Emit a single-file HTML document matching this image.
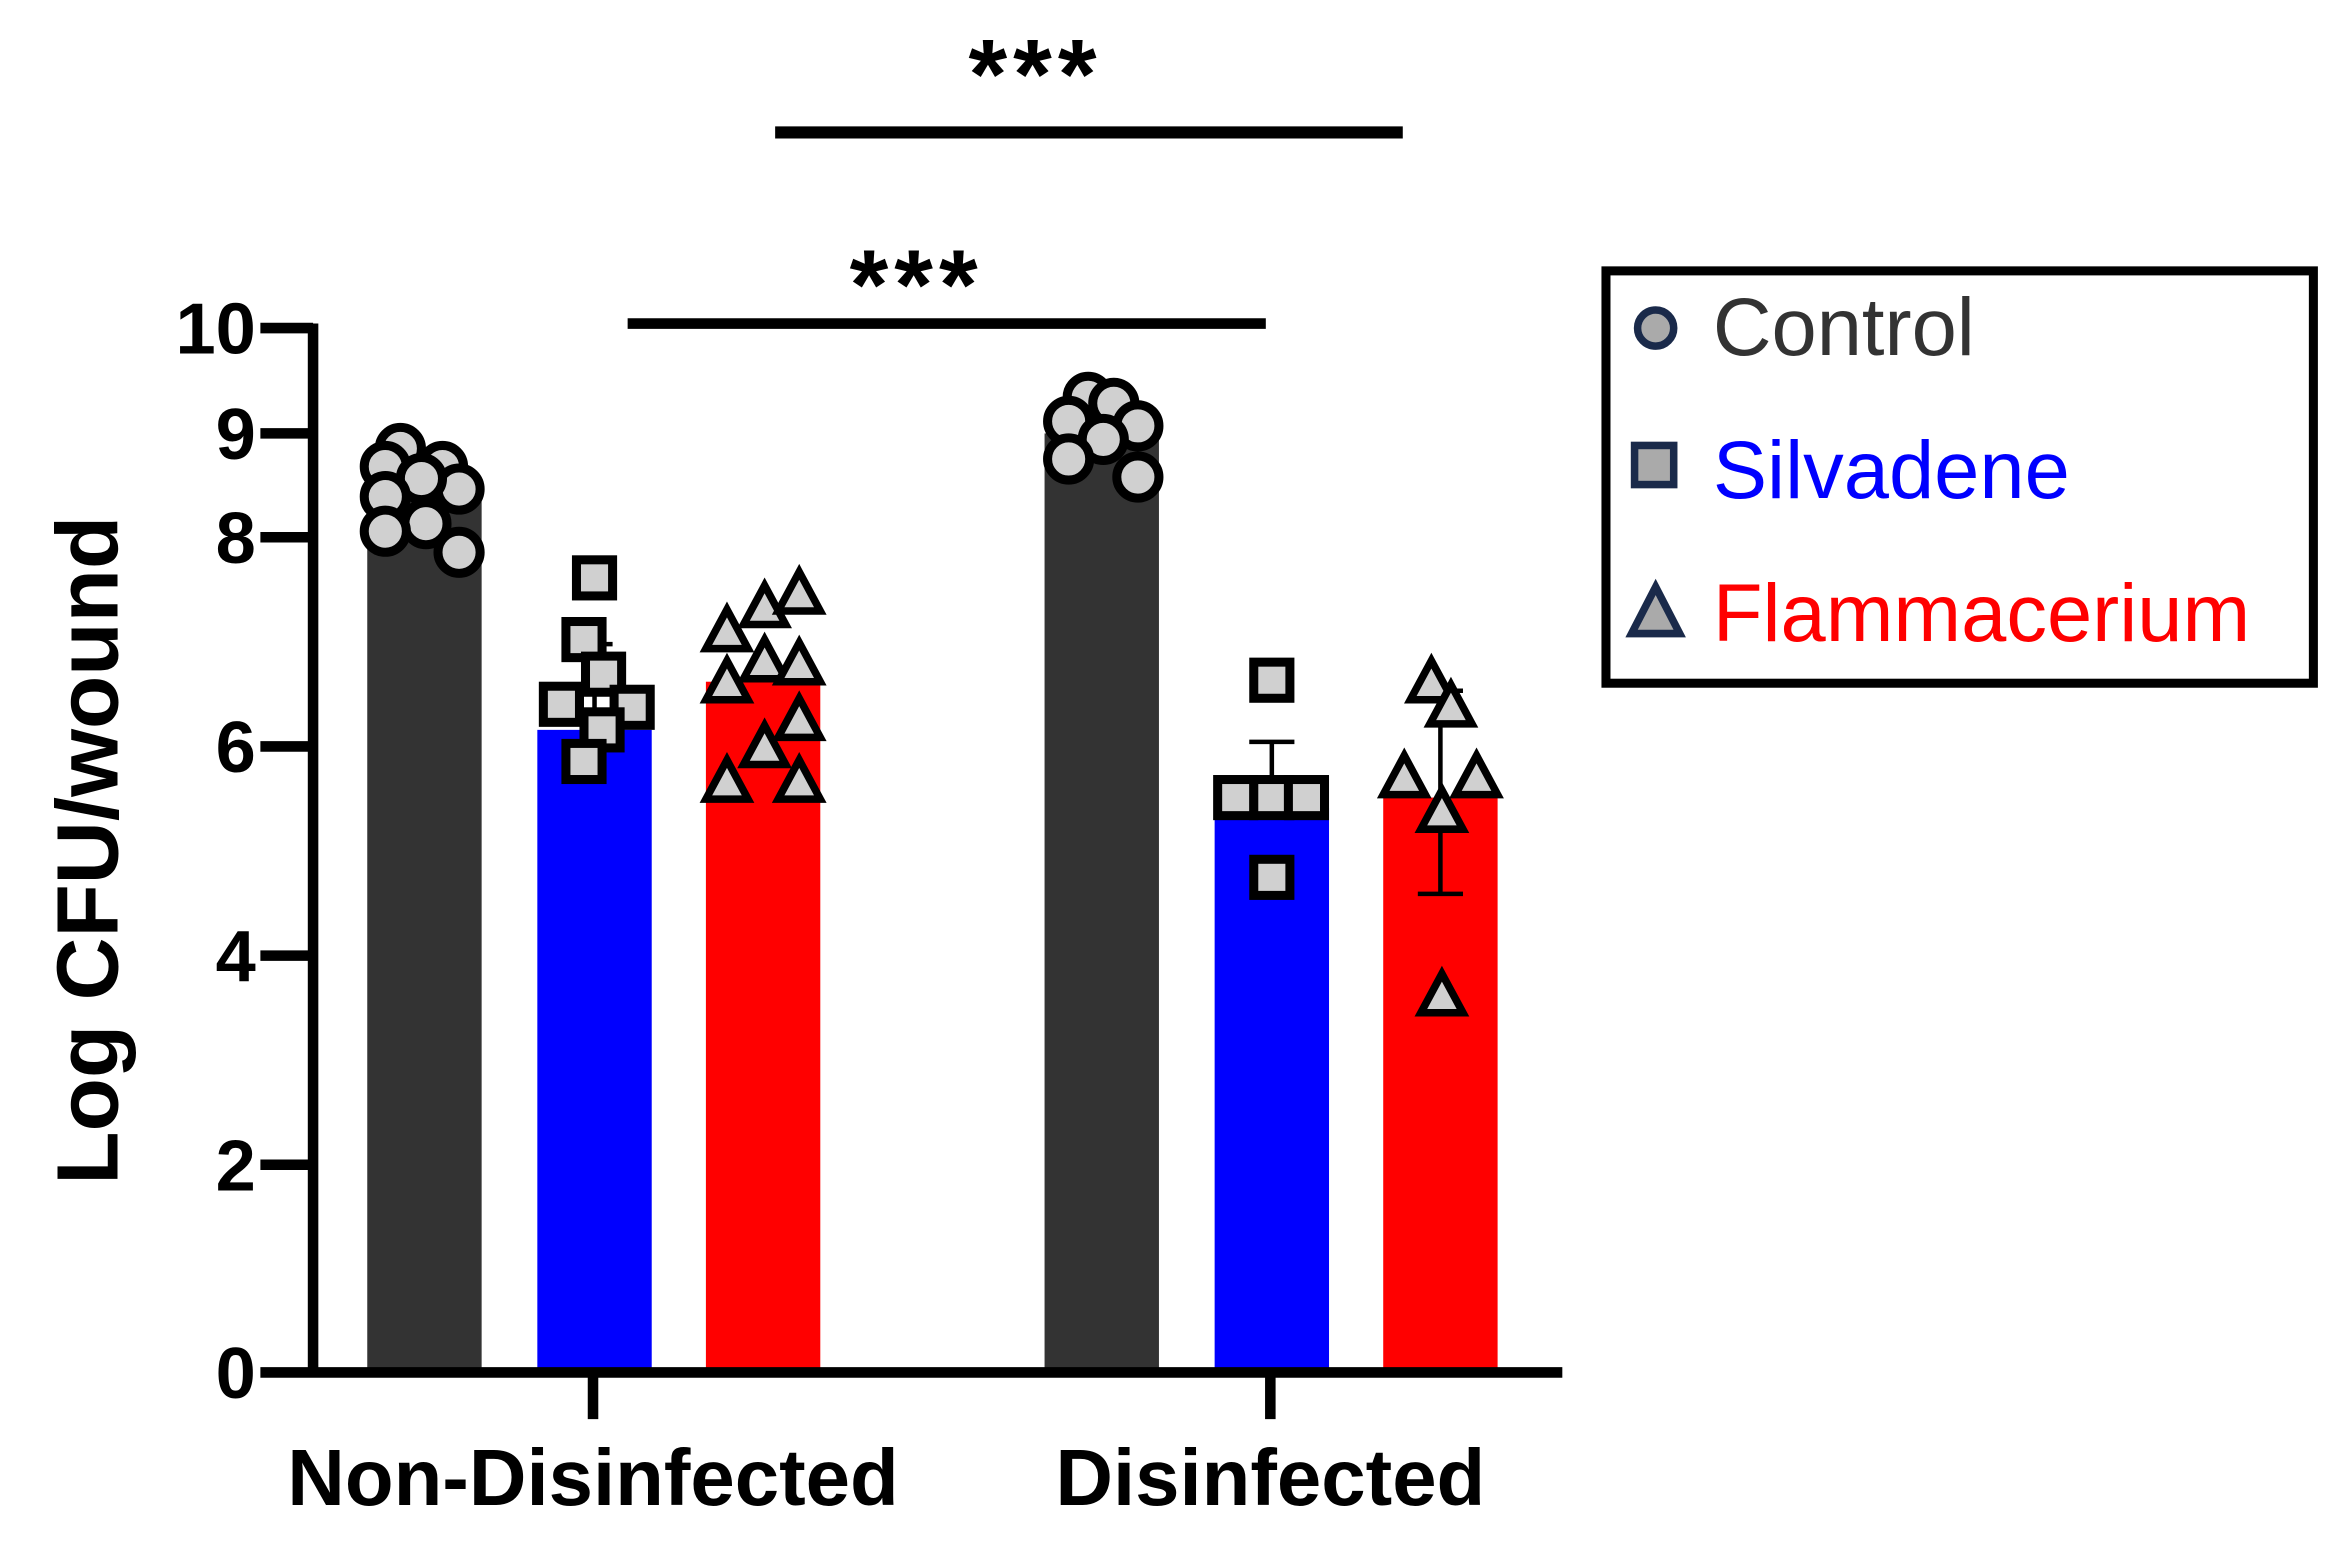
<!DOCTYPE html>
<html><head><meta charset="utf-8"><style>html,body{margin:0;padding:0;background:#fff}svg{display:block}</style></head>
<body>
<svg width="2348" height="1541" viewBox="0 0 1560 1024" preserveAspectRatio="none" xmlns="http://www.w3.org/2000/svg" font-family="Liberation Sans, sans-serif">
<defs>
<circle id="c" r="14" fill="#d0d0d0" stroke="#000" stroke-width="6"/>
<rect id="s" x="-12" y="-12" width="24" height="24" fill="#d0d0d0" stroke="#000" stroke-width="6"/>
<path id="t" d="M0,-15 L14,11 L-14,11 Z" fill="#d0d0d0" stroke="#000" stroke-width="5" stroke-linejoin="miter"/>
</defs>
<rect x="244" y="328" width="76" height="584" fill="#333"/>
<rect x="357" y="485" width="76" height="427" fill="#0000ff"/>
<rect x="469" y="453" width="76" height="459" fill="#ff0000"/>
<rect x="694" y="288" width="76" height="624" fill="#333"/>
<rect x="807" y="537" width="76" height="375" fill="#0000ff"/>
<rect x="919" y="530" width="76" height="382" fill="#ff0000"/>
<g stroke="#000" stroke-width="3">
<line x1="395" y1="485" x2="395" y2="428"/><line x1="383" y1="428" x2="407" y2="428"/>
<line x1="507" y1="453" x2="507" y2="440"/>
<line x1="845" y1="537" x2="845" y2="493"/><line x1="830" y1="493" x2="860" y2="493"/>
<line x1="957" y1="459" x2="957" y2="594"/><line x1="942" y1="459" x2="972" y2="459"/><line x1="942" y1="594" x2="972" y2="594"/>
</g>
<g transform="translate(-2,0)">
<use href="#c" x="268" y="298"/><use href="#c" x="258" y="310"/><use href="#c" x="296" y="310"/><use href="#c" x="307" y="325"/><use href="#c" x="282" y="318"/><use href="#c" x="258" y="330"/><use href="#c" x="285" y="348"/><use href="#c" x="258" y="353"/><use href="#c" x="307" y="367"/>
<use href="#c" x="725" y="264"/><use href="#c" x="712" y="280"/><use href="#c" x="742" y="268"/><use href="#c" x="758" y="283"/><use href="#c" x="735" y="292"/><use href="#c" x="712" y="305"/><use href="#c" x="758" y="317"/>
<use href="#s" x="397" y="384"/><use href="#s" x="390" y="425"/><use href="#s" x="403" y="448"/><use href="#s" x="375" y="468"/><use href="#s" x="422" y="470"/><use href="#s" x="402" y="485"/><use href="#s" x="390" y="506"/>
<use href="#t" x="485" y="420"/><use href="#t" x="510" y="404"/><use href="#t" x="533" y="395"/><use href="#t" x="510" y="440"/><use href="#t" x="533" y="442"/><use href="#t" x="485" y="454"/><use href="#t" x="533" y="479"/><use href="#t" x="510" y="497"/><use href="#t" x="485" y="520"/><use href="#t" x="533" y="520"/>
<use href="#s" x="847" y="452"/><use href="#s" x="823" y="530"/><use href="#s" x="847" y="530"/><use href="#s" x="870" y="530"/><use href="#s" x="847" y="583"/>
<use href="#t" x="953" y="454"/><use href="#t" x="966" y="470"/><use href="#t" x="935" y="517"/><use href="#t" x="983" y="517"/><use href="#t" x="960" y="540"/><use href="#t" x="960" y="662"/>
</g>
<g stroke="#000" stroke-width="7">
<line x1="208" y1="215" x2="208" y2="915"/>
<line x1="173" y1="912" x2="1038" y2="912"/>
<line x1="173" y1="218" x2="208" y2="218"/><line x1="173" y1="288" x2="208" y2="288"/><line x1="173" y1="357" x2="208" y2="357"/><line x1="173" y1="496" x2="208" y2="496"/><line x1="173" y1="635" x2="208" y2="635"/><line x1="173" y1="774" x2="208" y2="774"/>
<line x1="394" y1="912" x2="394" y2="943"/><line x1="844" y1="912" x2="844" y2="943"/>
</g>
<g font-size="48" font-weight="bold" text-anchor="end">
<text x="170" y="235">10</text><text x="170" y="305">9</text><text x="170" y="374">8</text><text x="170" y="513">6</text><text x="170" y="652">4</text><text x="170" y="791">2</text><text x="170" y="929">0</text>
</g>
<g font-size="53" font-weight="bold" text-anchor="middle">
<text x="394" y="1000">Non-Disinfected</text>
<text x="844" y="1000">Disinfected</text>
<text transform="translate(78,565) rotate(-90)" font-size="58">Log CFU/wound</text>
</g>
<line x1="515" y1="88" x2="932" y2="88" stroke="#000" stroke-width="8"/>
<line x1="417" y1="215" x2="841" y2="215" stroke="#000" stroke-width="7"/>
<g font-size="66" font-weight="bold" text-anchor="middle" letter-spacing="4">
<text x="688" y="72">***</text>
<text x="609" y="212">***</text>
</g>
<rect x="1067" y="180" width="470" height="274" fill="#fff" stroke="#000" stroke-width="6"/>
<circle cx="1100" cy="218" r="12" fill="#aaa" stroke="#1a2a4a" stroke-width="5"/>
<rect x="1086" y="296" width="26" height="26" fill="#aaa" stroke="#1a2a4a" stroke-width="5"/>
<path d="M1100,390 L1116,421 L1084,421 Z" fill="#aaa" stroke="#1a2a4a" stroke-width="5"/>
<g font-size="54">
<text x="1138" y="236" fill="#333">Control</text>
<text x="1138" y="331" fill="#0000ff">Silvadene</text>
<text x="1138" y="426" fill="#ff0000">Flammacerium</text>
</g>
</svg>
</body></html>
